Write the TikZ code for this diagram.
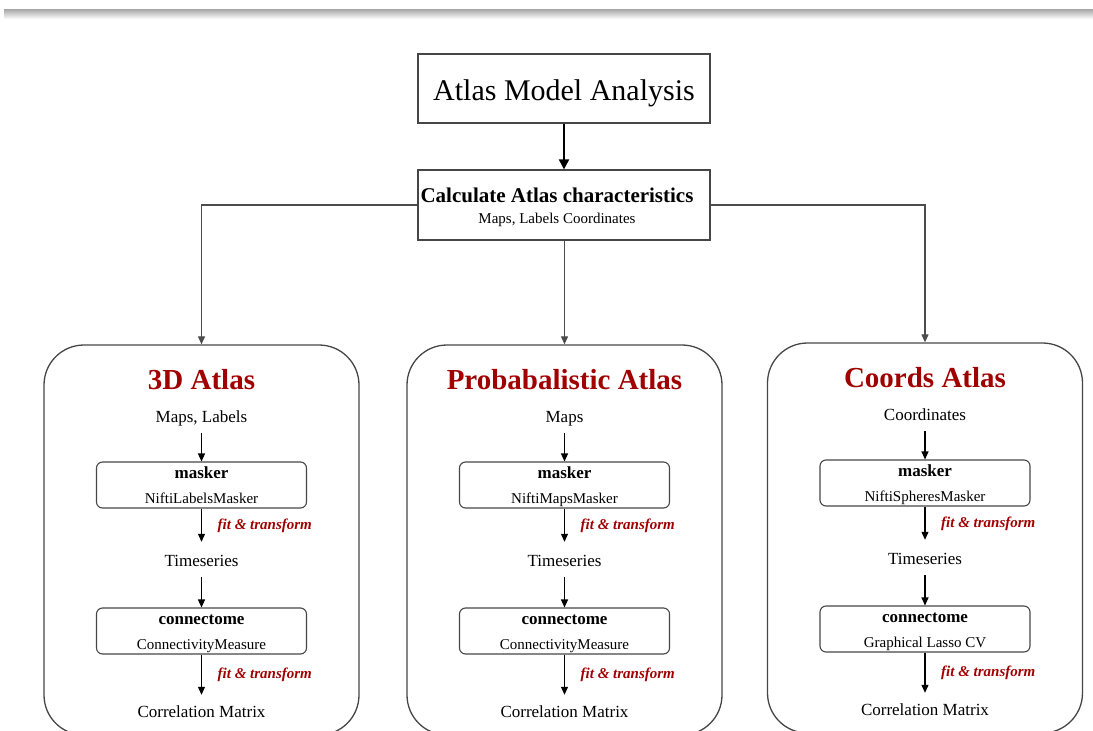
\documentclass[tikz,border=0pt]{standalone}
\usepackage{fontspec}
\setmainfont{Liberation Serif}
\usetikzlibrary{arrows.meta}
\definecolor{atred}{RGB}{160,0,0}
\definecolor{lgray}{RGB}{70,70,70}
\tikzset{
  bigbox/.style={draw=lgray, line width=1.3pt, rounded corners=40pt, minimum width=315pt, minimum height=390pt, inner sep=0pt},
  subbox/.style={draw=lgray, line width=1.1pt, rounded corners=6pt, minimum width=210pt, minimum height=46pt, inner sep=0pt},
  plainbox/.style={draw=lgray, line width=1.2pt, inner sep=0pt},
  arr/.style={-{Triangle[length=8pt,width=7pt]}, line width=1.1pt},
  garr/.style={arr, draw=black!70},
  bigarr/.style={-{Triangle[length=10pt,width=10pt]}, line width=2pt},
  ttl/.style={font=\fontsize{29}{31}\selectfont\bfseries, text=atred, text height=20pt, text depth=6pt, inner sep=0pt},
  txt/.style={font=\fontsize{17}{20}\selectfont, text height=12pt, text depth=4pt, inner sep=0pt},
  btxt/.style={font=\fontsize{17}{20}\selectfont\bfseries, text height=12pt, text depth=4pt, inner sep=0pt},
  stxt/.style={font=\fontsize{15}{18}\selectfont, text height=11pt, text depth=3.5pt, inner sep=0pt},
  fitlbl/.style={font=\fontsize{15}{18}\selectfont\bfseries\itshape, text=atred, anchor=west, text height=11pt, text depth=3.5pt, inner sep=0pt},
}
\newcommand\atlascol[7]{%
  \begin{scope}[shift={(#1,#2)}]
    \node[bigbox] (big#3) at (0,540) {};
    \node[ttl] (ttl#3) at (0,382) {#4};
    \node[txt] (in#3) at (0,418) {#5};
    \node[subbox] (mk#3) at (0,485) {};
    \node[btxt] (mkt#3) at (0,474) {masker};
    \node[stxt] (mkn#3) at (0,500) {#6};
    \node[txt] (ts#3) at (0,562) {Timeseries};
    \node[subbox] (cn#3) at (0,631) {};
    \node[btxt] (cnt#3) at (0,620) {connectome};
    \node[stxt] (cnn#3) at (0,646) {#7};
    \node[txt] (cm#3) at (0,713) {Correlation Matrix};
    \node[fitlbl] (fa#3) at (16,526) {fit \& transform};
    \node[fitlbl] (fb#3) at (16,675) {fit \& transform};
    \draw[arr, shorten <=7pt] (in#3) -- (mk#3);
    \draw[arr, shorten >=12pt] (mk#3) -- (ts#3);
    \draw[arr, shorten <=7pt] (ts#3) -- (cn#3);
    \draw[arr, shorten >=10pt] (cn#3) -- (cm#3);
  \end{scope}}
\begin{document}
\begin{tikzpicture}[x=1pt, y=-1pt]
  \useasboundingbox (0,0) rectangle (1093,731);
  \clip (0,0) rectangle (1093,731);
  \shade[top color=gray!70, bottom color=gray!8] (4,9) rectangle (1093,18);
  % top
  \node[plainbox, minimum width=292pt, minimum height=69pt] (top) at (564,88.5) {};
  \node[font=\fontsize{30}{32}\selectfont, text height=21pt, text depth=7pt, inner sep=0pt] (toptxt) at (564,93) {Atlas Model Analysis};
  \node[plainbox, minimum width=292pt, minimum height=70pt] (calc) at (564,205) {};
  \node[font=\fontsize{21}{23}\selectfont\bfseries, text height=15pt, text depth=5pt, inner sep=0pt] (calct) at (557,197) {Calculate Atlas characteristics};
  \node[stxt] (calcs) at (557,220) {Maps, Labels Coordinates};
  \draw[bigarr] (top) -- (calc);
  % columns
  \atlascol{201.5}{0}{a}{3D Atlas}{Maps, Labels}{NiftiLabelsMasker}{ConnectivityMeasure}
  \atlascol{564.5}{0}{b}{Probabalistic Atlas}{Maps}{NiftiMapsMasker}{ConnectivityMeasure}
  \atlascol{925}{-2}{c}{Coords Atlas}{Coordinates}{NiftiSpheresMasker}{Graphical Lasso CV}
  % connectors
  \draw[garr] (calc.west) -| (biga.north);
  \draw[garr] (calc.south -| bigb.north) -- (bigb.north);
  \draw[garr] (calc.east) -| (bigc.north);
\end{tikzpicture}
\end{document}
